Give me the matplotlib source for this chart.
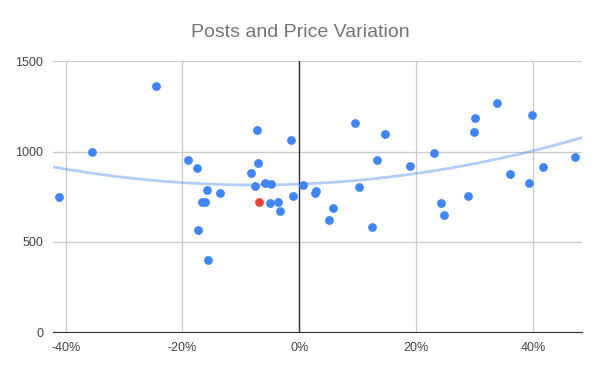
import numpy as np
import matplotlib.pyplot as plt
from matplotlib.ticker import FuncFormatter

# price variation (%) and number of posts
variation = [-41.1, -35.5, -24.6, -19.0, -17.5, -15.8, -13.5, -16.6, -16.1, -17.4,
             -15.6, -7.2, -7.0, -8.3, -7.5, -5.9, -4.8, -5.0, -3.7, -3.3,
             -1.5, -1.1, 0.6, 2.7, 2.9, 5.1, 5.8, 9.5, 10.3, 12.5,
             13.3, 14.6, 18.9, 23.0, 24.2, 24.8, 28.8, 29.9, 30.0, 33.8,
             36.1, 39.4, 39.9, 41.7, 47.2]
posts = [747, 998, 1365, 952, 910, 790, 771, 723, 723, 566,
         399, 1122, 936, 884, 812, 825, 819, 718, 723, 670,
         1066, 753, 816, 773, 782, 622, 688, 1159, 805, 581,
         956, 1100, 923, 995, 718, 649, 755, 1107, 1185, 1268,
         876, 825, 1201, 917, 969]

# highlighted point
red_variation = [-6.9]
red_posts = [723]

plt.rcParams['font.family'] = ['Liberation Sans', 'DejaVu Sans']

fig = plt.figure(figsize=(6, 3.71), dpi=100)
ax = fig.add_axes([0.088, 0.1043, 0.882, 0.7305])

xmin, xmax = -42.2, 48.4

# polynomial trendline (degree 2)
coef = np.polyfit(variation, posts, 2)
xs = np.linspace(xmin, xmax, 200)
ax.plot(xs, np.polyval(coef, xs), color='#4285F4', alpha=0.4, lw=2, zorder=2)

ax.scatter(variation, posts, s=40, color='#4285F4', zorder=3, linewidths=0)
ax.scatter(red_variation, red_posts, s=40, color='#EA4335', zorder=4, linewidths=0)

ax.set_xlim(xmin, xmax)
ax.set_ylim(0, 1500)
ax.set_xticks([-40, -20, 0, 20, 40])
ax.set_yticks([0, 500, 1000, 1500])
ax.xaxis.set_major_formatter(FuncFormatter(lambda v, p: f'{v:.0f}%'))

ax.grid(True, color='#cccccc', lw=0.9)
ax.set_axisbelow(True)
ax.axvline(0, color='#333333', lw=1, zorder=1.5)
for s in ['top', 'right', 'left']:
    ax.spines[s].set_visible(False)
ax.spines['bottom'].set_color('#333333')
ax.tick_params(length=0, labelsize=9, colors='#444444')
ax.tick_params(axis='x', pad=7)
ax.tick_params(axis='y', pad=7)

fig.suptitle('Posts and Price Variation', x=0.5, y=0.935, fontsize=14, color='#757575')

fig.savefig('out.png', dpi=100)
